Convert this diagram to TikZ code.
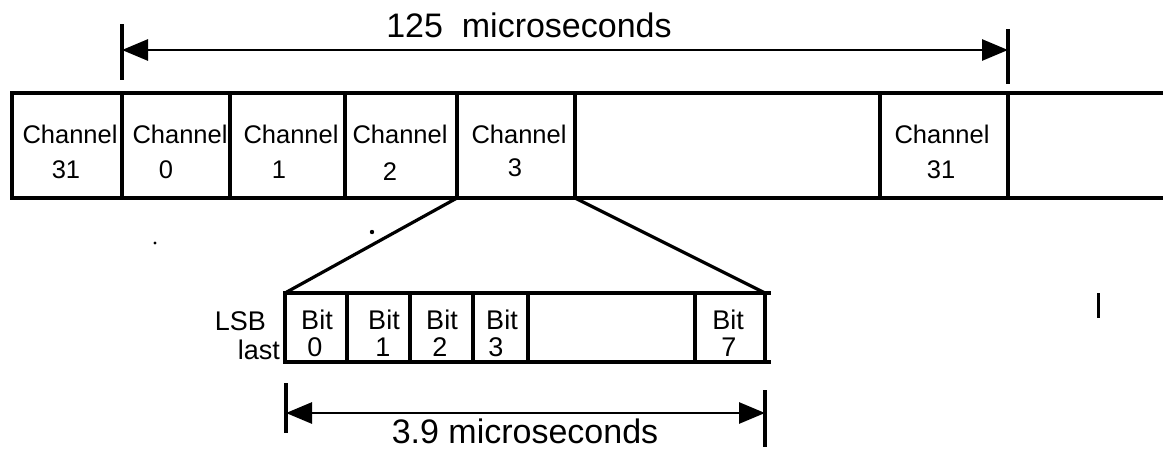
\documentclass[tikz,border=0pt]{standalone}
\usepackage{fontspec}
\setmainfont{Liberation Sans}
\usetikzlibrary{arrows.meta}
\tikzset{
  ln/.style={line width=3.2pt},
  cell/.style={draw, line width=3.2pt, inner sep=0pt, outer sep=0pt, minimum height=105pt},
  bitcell/.style={draw, line width=3.2pt, inner sep=0pt, outer sep=0pt, minimum height=69pt},
  lab/.style={inner sep=0pt, anchor=base, font=\fontsize{25.5}{30}\selectfont},
  blab/.style={inner sep=0pt, anchor=base, font=\fontsize{27}{32}\selectfont},
  big/.style={inner sep=0pt, anchor=base, font=\fontsize{34}{40}\selectfont},
  dim/.style={line width=2.8pt, {Triangle[length=26pt,width=21pt]}-{Triangle[length=26pt,width=21pt]}},
  tick/.style={line width=3.2pt}
}
\begin{document}
\begin{tikzpicture}[x=1pt,y=-1pt]
\useasboundingbox (0,0) rectangle (1163,451);
% channel strip
\node[cell, minimum width=110pt] (ca) at (67,145.5) {};
\node[cell, minimum width=108pt] (c0) at (176,145.5) {};
\node[cell, minimum width=115pt] (c1) at (287.5,145.5) {};
\node[cell, minimum width=112pt] (c2) at (401,145.5) {};
\node[cell, minimum width=118pt] (c3) at (516,145.5) {};
\node[cell, minimum width=305pt] (cg) at (727.5,145.5) {};
\node[cell, minimum width=128pt] (cb) at (944,145.5) {};
\coordinate (endT) at (1163,93);
\coordinate (endB) at (1163,198);
\draw[ln] (cb.north east) -- (endT);
\draw[ln] (cb.south east) -- (endB);
% channel labels
\node[lab] (ta) at (70,143) {Channel};  \node[lab] (na) at (66,178) {31};
\node[lab] (t0) at (180,143) {Channel}; \node[lab] (n0) at (166,178) {0};
\node[lab] (t1) at (291,143) {Channel}; \node[lab] (n1) at (279,178) {1};
\node[lab] (t2) at (400,143) {Channel}; \node[lab] (n2) at (390,180) {2};
\node[lab] (t3) at (519,143) {Channel}; \node[lab] (n3) at (515,176) {3};
\node[lab] (tb) at (942,143) {Channel}; \node[lab] (nb) at (941,178) {31};
% 125 us dimension
\coordinate (ua1) at (122,24); \coordinate (ua2) at (122,80);
\coordinate (ub1) at (1008,29); \coordinate (ub2) at (1008,84);
\draw[tick] (ua1) -- (ua2);
\draw[tick] (ub1) -- (ub2);
\coordinate (ual) at (122,50); \coordinate (ubl) at (1008,50);
\draw[dim] (ual) -- (ubl);
\node[big] (t125) at (529,37) {125\ \ microseconds};
% bit strip
\node[bitcell, minimum width=62pt] (b0) at (316,327.5) {};
\node[bitcell, minimum width=63pt] (b1) at (378.5,327.5) {};
\node[bitcell, minimum width=63pt] (b2) at (441.5,327.5) {};
\node[bitcell, minimum width=55pt] (b3) at (500.5,327.5) {};
\node[bitcell, minimum width=167pt] (bg) at (611.5,327.5) {};
\node[bitcell, minimum width=70pt] (b7) at (730,327.5) {};
\coordinate (bxT) at (771,293); \coordinate (bxB) at (771,362);
\draw[ln] (b7.north east) -- (bxT);
\draw[ln] (b7.south east) -- (bxB);
% expansion lines
\draw[ln] (c3.south west) -- (b0.north west);
\draw[ln] (c3.south east) -- (b7.north east);
% bit labels
\node[blab, anchor=base east] (lsb) at (266,330) {LSB};
\node[blab, anchor=base east] (lst) at (280,359) {last};
\node[blab] (bt0) at (317,329) {Bit}; \node[blab] (bn0) at (315,356) {0};
\node[blab] (bt1) at (384,329) {Bit}; \node[blab] (bn1) at (383,356) {1};
\node[blab] (bt2) at (442,329) {Bit}; \node[blab] (bn2) at (440,356) {2};
\node[blab] (bt3) at (502,329) {Bit}; \node[blab] (bn3) at (496,356) {3};
\node[blab] (bt7) at (728,329) {Bit}; \node[blab] (bn7) at (729,356) {7};
% 3.9 us dimension
\coordinate (la1) at (286,383); \coordinate (la2) at (286,433);
\coordinate (lb1) at (765,390); \coordinate (lb2) at (765,447);
\draw[tick] (la1) -- (la2);
\draw[tick] (lb1) -- (lb2);
\coordinate (lal) at (286,413); \coordinate (lbl) at (765,413);
\draw[dim] (lal) -- (lbl);
\node[big] (t39) at (525,443) {3.9 microseconds};
% stray marks
\fill (372,232) circle (2.2pt);
\fill (155,243) circle (1.6pt);
\draw[line width=3pt] (1098,293) -- (1098,318);
\end{tikzpicture}
\end{document}
